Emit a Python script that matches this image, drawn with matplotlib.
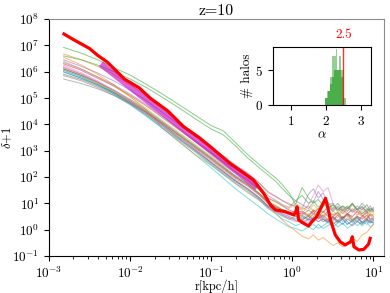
"Density profiles at z=10"
import matplotlib.pyplot as plt
import matplotlib.ticker as ticker
import matplotlib.transforms as mtransforms
import numpy as np

plt.rcParams['font.family'] = 'serif'
plt.rcParams['font.serif'] = ['cmr10', 'DejaVu Serif']
plt.rcParams['mathtext.fontset'] = 'cm'
plt.rcParams['axes.formatter.use_mathtext'] = True
plt.rcParams['font.size'] = 9.5

# radii of the individual halo profiles (log10 r [kpc/h])
log_r = [-2.82, -2.6, -2.4, -2.2, -2.0, -1.8, -1.6, -1.4, -1.2, -1.0, -0.85, -0.7,
         -0.55, -0.4, -0.3, -0.2, -0.12, -0.04, 0.04, 0.12, 0.2, 0.26, 0.32, 0.38,
         0.44, 0.5, 0.56, 0.62, 0.68, 0.74, 0.8, 0.86, 0.92, 0.96, 1.0]

# log10(delta+1) of every halo
halo_profiles = [
    [6.10, 5.85, 5.6, 5.3, 4.95, 4.55, 4.1, 3.65, 3.2, 2.75, 2.4, 2.05, 1.75,
     1.35, 1.05, 0.85, 0.75, 0.6, 0.55, 0.4, 0.5, 0.35, 0.55, 0.4, 0.3, 0.45, 0.25, 0.4, 0.2, 0.35, 0.5, 0.25, 0.4, 0.3, 0.35],
    [6.67, 6.45, 6.2, 5.9, 5.5, 5.1, 4.6, 4.1, 3.6, 3.1, 2.75, 2.4, 2.1,
     1.75, 1.4, 1.25, 1.1, 1.0, 0.85, 0.75, 0.9, 0.7, 0.8, 0.65, 0.85, 0.7, 0.55, 0.75, 0.6, 0.8, 0.65, 0.5, 0.7, 0.55, 0.6],
    [6.92, 6.7, 6.45, 6.15, 5.87, 5.52, 5.15, 4.75, 4.35, 3.95, 3.75, 3.3, 2.85, 2.45, 2.2, 1.95, 1.7, 1.4, 0.95,
     1.6, 1.2, 1.0, 1.15, 0.9, 1.05, 0.8, 1.0, 0.75, 0.9, 0.7, 0.9, 0.75, 0.95, 0.7, 0.85],
    [6.3, 6.05, 5.75, 5.45, 5.1, 4.7, 4.25, 3.8, 3.35, 2.9, 2.55, 2.2, 1.9,
     1.5, 1.2, 1.05, 0.9, 0.75, 0.65, 0.7, 0.55, 0.75, 0.6, 0.5, 0.7, 0.55, 0.65, 0.45, 0.6, 0.5, 0.7, 0.55, 0.4, 0.6, 0.5],
    [6.45, 6.2, 5.95, 5.65, 5.3, 4.9, 4.45, 4.0, 3.55, 3.1, 2.8, 2.45, 2.15,
     1.75, 1.45, 1.25, 1.1, 0.95, 0.9, 0.8, 1.35, 1.55, 1.2, 1.4, 0.95, 1.0, 0.75, 0.9, 0.7, 0.95, 0.75, 1.0, 0.8, 0.7, 0.8],
    [6.1, 5.85, 5.55, 5.2, 4.85, 4.45, 4.0, 3.55, 3.1, 2.65, 2.3, 1.95, 1.65,
     1.3, 1.0, 0.8, 0.7, 0.6, 0.5, 0.55, 0.4, 0.6, 0.45, 0.7, 0.5, 0.35, 0.55, 0.4, 0.6, 0.45, 0.3, 0.5, 0.65, 0.4, 0.45],
    [6.25, 5.95, 5.65, 5.3, 4.9, 4.5, 4.05, 3.6, 3.15, 2.7, 2.35, 2.0, 1.7,
     1.3, 1.0, 0.8, 0.65, 0.55, 0.7, 0.6, 0.95, 1.3, 1.7, 1.45, 1.6, 1.0, 0.7, 0.8, 0.6, 0.75, 0.55, 0.8, 0.6, 0.7, 0.65],
    [5.72, 5.55, 5.35, 5.1, 4.8, 4.45, 4.05, 3.6, 3.15, 2.7, 2.35, 2.0, 1.7,
     1.35, 1.05, 0.85, 0.75, 0.65, 0.7, 0.55, 0.75, 0.6, 0.8, 0.65, 0.9, 0.7, 0.85, 0.6, 0.8, 1.0, 0.75, 0.9, 0.65, 0.8, 0.7],
    [6.4, 6.1, 5.8, 5.45, 5.05, 4.6, 4.15, 3.7, 3.25, 2.8, 2.45, 2.15, 1.85,
     1.5, 1.2, 1.05, 0.9, 0.8, 1.0, 0.85, 0.7, 0.95, 0.75, 1.1, 0.8, 0.95, 0.65, 0.85, 0.7, 1.0, 0.75, 0.6, 0.8, 0.65, 0.7],
    [5.98, 5.75, 5.5, 5.2, 4.8, 4.35, 3.85, 3.35, 2.85, 2.35, 1.95, 1.55, 1.2,
     0.85, 0.6, 0.4, 0.25, 0.1, 0.05, -0.05, 0.1, 0.0, 0.2, 0.05, 0.15, 0.3, 0.1, 0.25, 0.05, 0.2, 0.35, 0.15, 0.3, 0.1, 0.2],
    [6.0, 5.75, 5.5, 5.2, 4.85, 4.45, 4.0, 3.5, 3.05, 2.55, 2.2, 1.85, 1.55,
     1.2, 0.9, 0.75, 0.6, 0.5, 0.4, 0.5, 0.35, 0.45, 0.3, 0.4, 0.25, 0.5, 0.35, 0.2, 0.4, 0.3, 0.45, 0.25, 0.35, 0.3, 0.25],
    [6.55, 6.25, 5.9, 5.5, 5.05, 4.55, 3.85, 3.35, 2.85, 2.45, 2.1, 1.75, 1.4,
     1.1, 0.85, 0.6, 0.35, 0.15, -0.05, -0.25, -0.35, -0.2, -0.4, -0.3, -0.45, -0.6, -0.5, -0.65, -0.55, -0.3, -0.45, -0.2, -0.1, 0.05, 0.2],
    [6.6, 6.45, 6.25, 6.0, 5.72, 5.4, 5.02, 4.63, 4.22, 3.82, 3.6, 3.18, 2.72, 2.33, 2.08, 1.82, 1.55, 1.3,
     1.1, 1.3, 1.0, 1.1, 0.85, 1.0, 0.8, 0.95, 0.75, 0.9, 0.8, 1.0, 0.75, 0.85, 0.7, 0.8, 0.75],
    [6.15, 5.9, 5.6, 5.25, 4.9, 4.5, 4.05, 3.6, 3.15, 2.7, 2.35, 2.0, 1.7,
     1.35, 1.05, 0.9, 0.75, 0.65, 0.55, 0.65, 0.5, 0.7, 0.4, 0.55, 0.35, 0.5, 0.3, 0.45, 0.6, 0.35, 0.5, 0.4, 0.55, 0.35, 0.4],
    [6.35, 6.1, 5.8, 5.5, 5.15, 4.75, 4.3, 3.85, 3.4, 2.95, 2.6, 2.3, 2.0,
     1.6, 1.3, 1.1, 0.95, 0.85, 1.1, 0.95, 0.8, 1.05, 1.45, 1.15, 0.95, 0.75, 0.9, 0.7, 0.85, 0.65, 0.8, 0.6, 0.75, 0.9, 0.7],
    [5.9, 5.7, 5.45, 5.15, 4.8, 4.4, 3.95, 3.45, 3.0, 2.55, 2.2, 1.85, 1.55,
     1.2, 0.9, 0.7, 0.55, 0.45, 0.35, 0.25, 0.4, 0.3, 0.5, 0.3, 0.4, 0.2, 0.35, 0.5, 0.3, 0.15, 0.3, 0.2, 0.4, 0.25, 0.3],
    [6.2, 5.9, 5.6, 5.25, 4.85, 4.4, 3.95, 3.5, 3.05, 2.6, 2.25, 1.9, 1.55,
     1.15, 0.85, 0.7, 0.55, 0.4, 0.3, 0.4, 0.25, 0.5, 0.3, 0.45, 0.6, 0.4, 0.55, 0.3, 0.45, 0.25, 0.4, 0.5, 0.3, 0.4, 0.35],
    [5.85, 5.65, 5.4, 5.1, 4.75, 4.35, 3.9, 3.45, 3.0, 2.5, 2.15, 1.8, 1.5,
     1.15, 0.85, 0.65, 0.5, 0.4, 0.5, 0.35, 0.55, 0.4, 0.6, 0.45, 0.3, 0.5, 0.65, 0.4, 0.55, 0.35, 0.5, 0.3, 0.45, 0.55, 0.4],
    [6.05, 5.8, 5.55, 5.25, 4.9, 4.5, 4.05, 3.6, 3.15, 2.7, 2.35, 2.0, 1.7,
     1.35, 1.05, 0.9, 0.75, 0.65, 0.55, 0.45, 0.6, 0.5, 0.7, 0.55, 0.4, 0.6, 0.45, 0.7, 0.5, 0.35, 0.55, 0.7, 0.5, 0.6, 0.55],
    [6.05, 5.8, 5.5, 5.15, 4.75, 4.3, 3.85, 3.4, 2.95, 2.45, 2.1, 1.75, 1.45,
     1.1, 0.8, 0.6, 0.4, 0.3, 0.15, 0.25, 0.1, 0.2, 0.05, 0.15, 0.3, 0.1, 0.25, 0.4, 0.2, 0.35, 0.15, 0.3, 0.2, 0.35, 0.25],
]

# stacked / mean profile (red)
mean_log_r = [-2.815, -2.7, -2.5, -2.4, -2.28, -2.07, -1.89, -1.75, -1.54, -1.34, -1.15, -1.01,
              -0.77, -0.62, -0.48, -0.354, -0.27, -0.21, -0.15, -0.086, -0.03, 0.016, 0.04, 0.058,
              0.078, 0.14, 0.2, 0.24, 0.3, 0.36, 0.41, 0.44, 0.47, 0.53, 0.59, 0.65, 0.72, 0.74,
              0.76, 0.82, 0.88, 0.94, 0.96]
mean_log_delta = [7.43, 7.22, 6.88, 6.62, 6.36, 5.72, 5.39, 4.99, 4.52, 3.91, 3.5, 3.15,
                  2.52, 2.2, 1.89, 1.38, 0.94, 0.75, 0.72, 0.68, 0.62, 0.56, 0.65, 0.87,
                  0.37, 0.24, 0.14, 0.30, 0.49, 0.87, 1.19, 0.81, 0.37, -0.20, -0.46, -0.58, -0.46, -0.27,
                  -0.65, -0.77, -0.75, -0.55, -0.33]

# power-law fit of the mean profile
fit_slope = 2.43
fit_r0 = 10**-2.33
fit_norm = 10**6.22
fit_range = [10**-2.33, 10**-0.46]

# fitted slopes (alpha) of the halos, two overlapping histograms
alpha_edges = [1.975, 2.025, 2.075, 2.125, 2.175, 2.225, 2.275, 2.325, 2.375, 2.425, 2.475, 2.525, 2.575]
alpha_counts_a = [1, 2, 2, 4, 7, 7, 8, 5, 7, 5, 5, 1]
alpha_counts_b = [1, 1, 2, 3, 4, 5, 5, 5, 5, 4, 1, 0]
alpha_mean = 2.5

fig = plt.figure(figsize=(3.9, 2.93), dpi=100)
ax = fig.add_axes([0.1256, 0.1263, 0.8590, 0.8089])

r = 10**np.array(log_r)
for i, prof in enumerate(halo_profiles):
    ax.plot(r, 10**np.array(prof), color='C%d' % (i % 10), lw=0.7, alpha=0.55)

rf = np.geomspace(fit_range[0], fit_range[1], 50)
ax.plot(rf, fit_norm * (rf / fit_r0)**(-fit_slope), color='m', lw=4.5, alpha=0.6)
ax.plot(10**np.array(mean_log_r), 10**np.array(mean_log_delta), color='r', lw=2.3)

ax.set_xscale('log')
ax.set_yscale('log')
ax.set_xlim(1e-3, 13.5)
ax.set_ylim(1e-1, 1e8)
ax.yaxis.set_major_locator(ticker.LogLocator(numticks=20))
ax.yaxis.set_minor_locator(ticker.NullLocator())
ax.set_xlabel('r[kpc/h]', fontsize=9, labelpad=-1)
ax.set_ylabel(r'$\delta$+1', fontsize=9, labelpad=-1)
ax.set_title('z=10', pad=3)
for s in ['top', 'right']:
    ax.spines[s].set_color('0.55')

# inset histogram of slopes
ins = fig.add_axes([0.699, 0.6406, 0.2513, 0.2])
ins.hist(alpha_edges[:-1], bins=alpha_edges, weights=alpha_counts_a, color='C2', alpha=0.5)
ins.hist(alpha_edges[:-1], bins=alpha_edges, weights=alpha_counts_b, color='C2', alpha=0.7)
ins.axvline(alpha_mean, color='r', lw=1, alpha=0.8)
trans = mtransforms.blended_transform_factory(ins.transData, ins.transAxes)
ins.text(alpha_mean, 1.1, '%.1f' % alpha_mean, color='r', ha='center', va='bottom',
         transform=trans)
ins.set_xlim(0.49, 3.27)
ins.set_xticks([1, 2, 3])
ins.set_yticks([0, 5])
ins.set_xlabel(r'$\alpha$', labelpad=1)
ins.set_ylabel('# halos', labelpad=1)

plt.savefig('out.png', dpi=100)
